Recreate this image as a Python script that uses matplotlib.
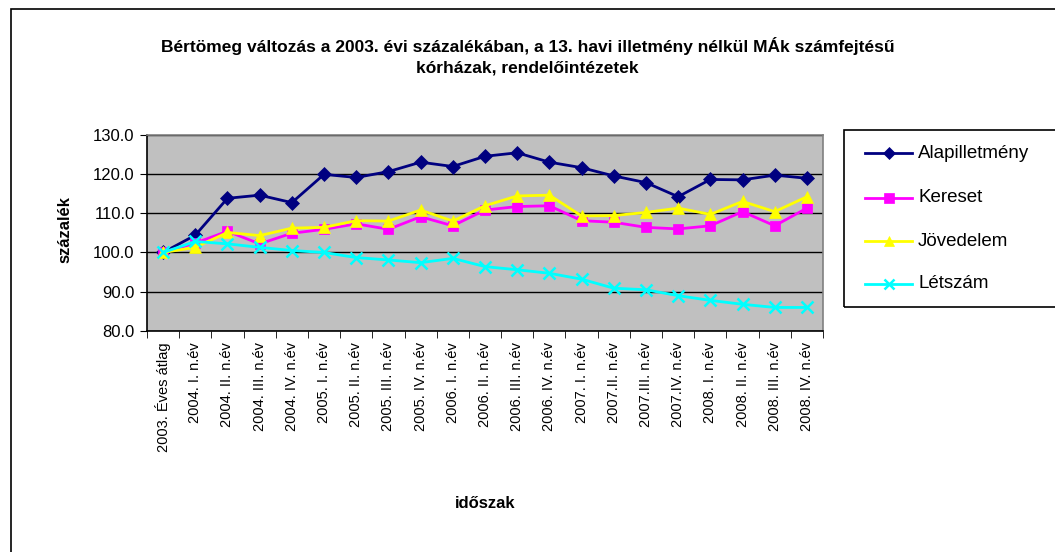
import matplotlib
matplotlib.use('Agg')
import matplotlib.pyplot as plt
from matplotlib.patches import Rectangle
from matplotlib.lines import Line2D

plt.rcParams['font.family'] = ['Liberation Sans', 'DejaVu Sans']

# data
categories = ['2003. Éves átlag', '2004. I. n.év', '2004. II. n.év', '2004. III. n.év',
              '2004. IV. n.év', '2005. I. n.év', '2005. II. n.év', '2005. III. n.év',
              '2005. IV. n.év', '2006. I. n.év', '2006. II. n.év', '2006. III. n.év',
              '2006. IV. n.év', '2007. I. n.év', '2007.II. n.év', '2007.III. n.év',
              '2007.IV. n.év', '2008. I. n.év', '2008. II. n.év', '2008. III. n.év',
              '2008. IV. n.év']
alapilletmeny = [100.0, 104.4, 113.8, 114.6, 112.7, 119.9, 119.1, 120.6, 123.0, 121.9,
                 124.5, 125.4, 123.0, 121.6, 119.5, 117.8, 114.2, 118.6, 118.5, 119.7, 118.9]
kereset = [100.0, 102.4, 105.4, 102.2, 104.9, 105.9, 107.3, 105.9, 109.1, 106.8,
           110.8, 111.7, 111.9, 108.1, 107.7, 106.4, 106.0, 106.8, 110.4, 106.8, 111.3]
jovedelem = [100.0, 101.3, 105.1, 104.3, 106.2, 106.4, 108.1, 108.0, 110.8, 108.0,
             111.9, 114.4, 114.6, 109.3, 109.4, 110.2, 111.3, 109.7, 113.0, 110.4, 114.2]
letszam = [100.0, 102.8, 102.2, 101.3, 100.5, 100.0, 98.7, 98.1, 97.4, 98.5,
           96.4, 95.6, 94.7, 93.2, 90.9, 90.5, 89.0, 87.8, 86.8, 86.0, 86.0]
series_names = ['Alapilletmény', 'Kereset', 'Jövedelem', 'Létszám']
yticks = [80.0, 90.0, 100.0, 110.0, 120.0, 130.0]

W, H = 1055, 552
fig = plt.figure(figsize=(W / 100, H / 100), dpi=100)

def px(x0, y0, x1, y1):
    return [x0 / W, 1 - y1 / H, (x1 - x0) / W, (y1 - y0) / H]

# outer chart frame (right/bottom edges are cut off in the original)
fig.patches.append(Rectangle((11 / W, -0.1), 1.2, 1 - 9 / H + 0.1, transform=fig.transFigure,
                             fill=False, edgecolor='black', linewidth=1.2))

ax = fig.add_axes(px(147, 134.7, 823, 331))
ax.set_facecolor('#C0C0C0')

styles = [
    (alapilletmeny, '#000080', 'D', 7),
    (kereset, '#FF00FF', 's', 7.5),
    (jovedelem, '#FFFF00', '^', 8),
    (letszam, '#00FFFF', 'x', 8),
]
xs = list(range(len(categories)))
for (vals, col, mk, ms), name in zip(styles, series_names):
    ax.plot(xs, vals, color=col, marker=mk, markersize=ms, linewidth=2,
            markeredgewidth=1.8 if mk == 'x' else 0.5, markeredgecolor=col,
            label=name, zorder=3, clip_on=False)

ax.set_ylim(80, 130)
ax.set_xlim(-0.5, len(categories) - 0.5)
ax.set_yticks(yticks)
ax.set_yticklabels([f'{v:.1f}' for v in yticks], fontsize=12)
ax.yaxis.grid(True, color='black', linewidth=1)
ax.set_axisbelow(True)
ax.set_xticks(xs)
ax.set_xticklabels(categories, rotation=90, fontsize=10.5, va='top', ha='center')
ax.set_xticks([i - 0.5 for i in range(len(categories) + 1)], minor=True)
ax.tick_params(axis='x', which='major', length=0, pad=8)
ax.tick_params(axis='x', which='minor', length=5, direction='out')
ax.tick_params(axis='y', length=5, direction='out', pad=4)

for side in ['top', 'right']:
    ax.spines[side].set_color('#808080')
for side in ['left', 'bottom']:
    ax.spines[side].set_color('black')
for sp in ax.spines.values():
    sp.set_linewidth(1.2)

fig.text(0.5, 1 - 56 / H,
         'Bértömeg változás a 2003. évi százalékában, a 13. havi illetmény nélkül MÁk számfejtésű\n'
         'kórházak, rendelőintézetek',
         ha='center', va='center', fontsize=12.5, fontweight='bold', linespacing=1.45)
fig.text(65 / W, 1 - 230 / H, 'százalék', rotation=90, ha='center', va='center',
         fontsize=12, fontweight='bold')
fig.text(485 / W, 1 - 503 / H, 'időszak', ha='center', va='center',
         fontsize=12, fontweight='bold')

# legend box (runs past the right edge like the original)
fig.patches.append(Rectangle((844 / W, 1 - 307 / H), 0.3, (307 - 130) / H,
                             transform=fig.transFigure, fill=False,
                             edgecolor='black', linewidth=1.2, clip_on=False))
leg_y = [153, 198, 241, 284]
for (vals, col, mk, ms), name, yy in zip(styles, series_names, leg_y):
    yf = 1 - yy / H
    fig.lines.append(Line2D([865 / W, 912 / W], [yf, yf], transform=fig.transFigure,
                            color=col, linewidth=2))
    fig.lines.append(Line2D([888.5 / W], [yf], transform=fig.transFigure, color=col,
                            marker=mk, markersize=ms - 0.5, markeredgecolor=col,
                            markeredgewidth=1.8 if mk == 'x' else 0.5))
    fig.text(918 / W, yf, name, ha='left', va='center', fontsize=13.5)

fig.savefig('out.png', dpi=100)
